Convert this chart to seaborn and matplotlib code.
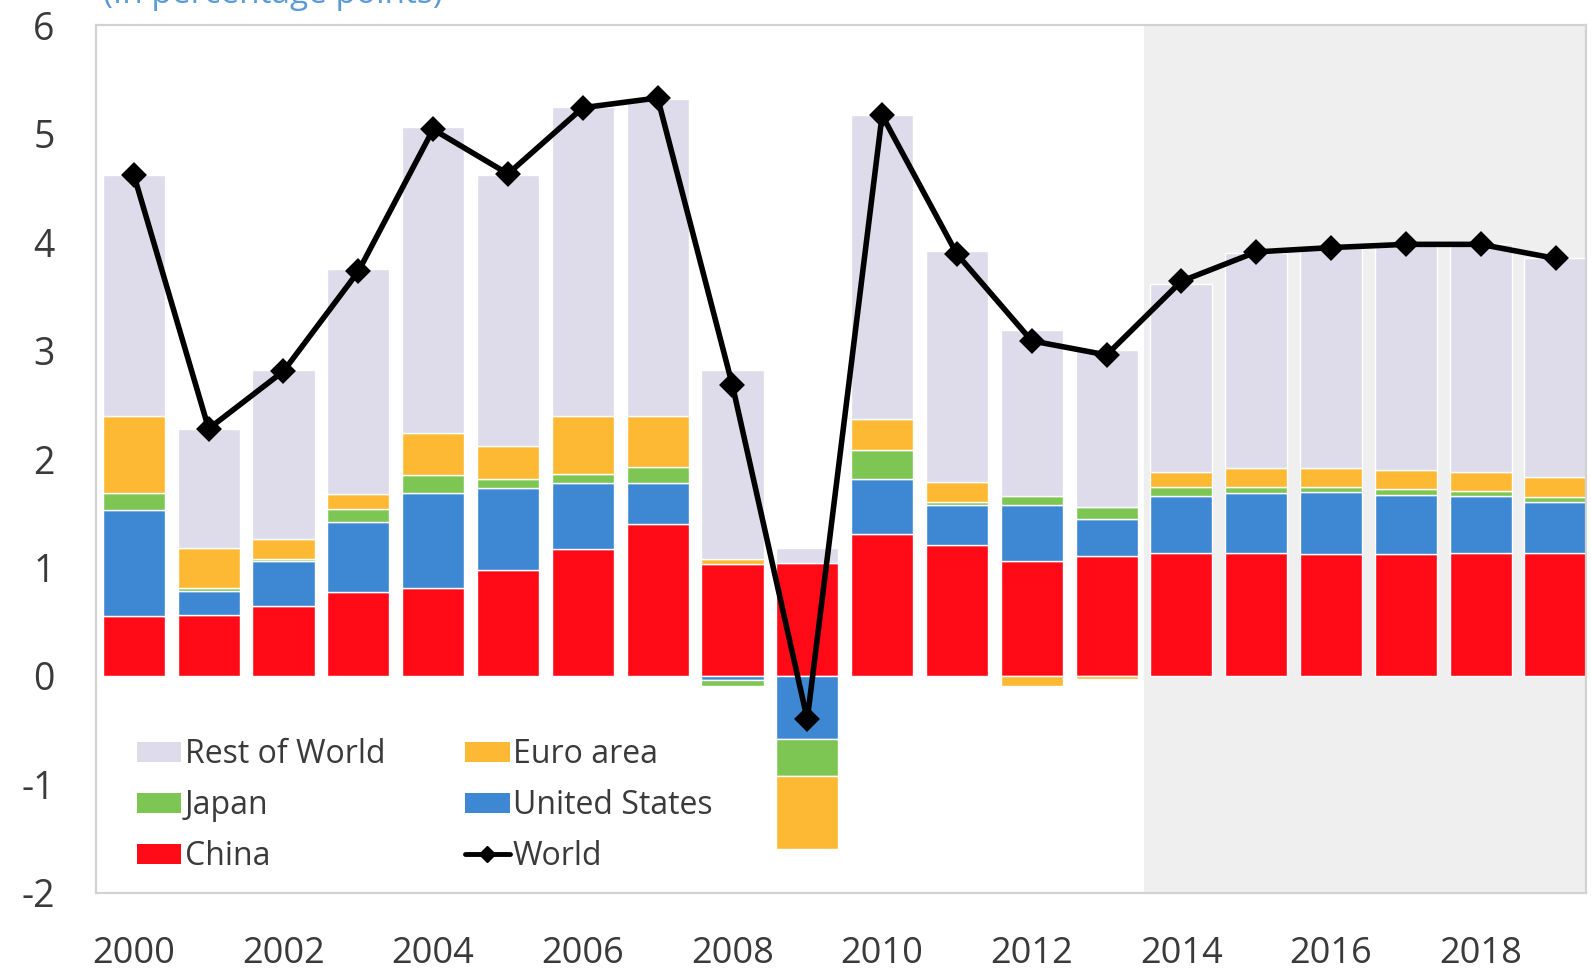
import numpy as np
import pandas as pd
import matplotlib
matplotlib.use("Agg")
import matplotlib.pyplot as plt
import seaborn as sns
from matplotlib.patches import Patch
from matplotlib.lines import Line2D

# ---- data ----
years = list(range(2000, 2020))
china = [0.55, 0.56, 0.645, 0.77, 0.81, 0.98, 1.17, 1.40, 1.03, 1.04,
         1.31, 1.21, 1.06, 1.11, 1.13, 1.13, 1.12, 1.12, 1.13, 1.13]
united_states = [0.98, 0.22, 0.415, 0.645, 0.875, 0.75, 0.61, 0.38, -0.04, -0.58,
                 0.51, 0.37, 0.52, 0.34, 0.53, 0.56, 0.58, 0.55, 0.53, 0.47]
japan = [0.16, 0.03, 0.02, 0.12, 0.17, 0.09, 0.08, 0.15, -0.05, -0.34,
         0.26, 0.02, 0.08, 0.11, 0.08, 0.05, 0.04, 0.05, 0.05, 0.05]
euro_area = [0.71, 0.37, 0.18, 0.145, 0.385, 0.30, 0.54, 0.47, 0.05, -0.68,
             0.29, 0.19, -0.09, -0.03, 0.14, 0.18, 0.18, 0.18, 0.17, 0.18]
rest_of_world = [2.22, 1.10, 1.56, 2.07, 2.82, 2.50, 2.85, 2.92, 1.74, 0.14,
                 2.80, 2.13, 1.53, 1.45, 1.73, 1.98, 2.03, 2.08, 2.10, 2.02]
world = [4.62, 2.28, 2.81, 3.73, 5.04, 4.63, 5.24, 5.33, 2.68, -0.40,
         5.17, 3.89, 3.09, 2.96, 3.64, 3.91, 3.95, 3.98, 3.98, 3.85]
year_labels = [str(y) for y in years]
tick_years = year_labels[::2]
projection_start = "2014"

series = [
    ("China", china, "#FF0A16"),
    ("United States", united_states, "#3E88D3"),
    ("Japan", japan, "#7DC653"),
    ("Euro area", euro_area, "#FDB933"),
    ("Rest of World", rest_of_world, "#DEDBEA"),
]

sns.set_theme(style="white")
plt.rcParams["font.family"] = ["Open Sans", "DejaVu Sans"]

fig = plt.figure(figsize=(15.91, 9.73), dpi=100)
ax = fig.add_axes([0.0606, 0.0824, 0.9364, 0.8916])

# shaded projection area
ps = year_labels.index(projection_start) - 0.5
ax.axvspan(ps, len(years) + 1, color="#EFEFEF", zorder=0, lw=0)

pos_base = np.zeros(len(years))
neg_base = np.zeros(len(years))
for name, vals, col in series:
    v = np.array(vals, dtype=float)
    bottom = np.where(v >= 0, pos_base, neg_base)
    sns.barplot(x=year_labels, y=v, bottom=bottom, color=col, saturation=1,
                width=0.83, edgecolor="white", linewidth=1.0, errorbar=None,
                ax=ax, zorder=2)
    pos_base = pos_base + np.where(v >= 0, v, 0)
    neg_base = neg_base + np.where(v < 0, v, 0)

sns.pointplot(x=year_labels, y=world, color="black", marker="D", markersize=10,
              linewidth=4, errorbar=None, ax=ax, zorder=5)

ax.set_xlim(-0.5, 19.41)
ax.set_ylim(-2, 6)
ax.set_yticks(range(-2, 7))
ax.set_yticklabels([str(t) for t in range(-2, 7)])
ax.set_xticks([year_labels.index(t) for t in tick_years])
ax.set_xticklabels(tick_years)
ax.tick_params(axis="both", length=0, labelsize=27, labelcolor="#3A3A3A")
ax.tick_params(axis="x", pad=31, labelsize=26)
ax.tick_params(axis="y", pad=30)
ax.set_xlabel("")
ax.set_ylabel("")
for s in ax.spines.values():
    s.set_color("#D2D2D2")
    s.set_linewidth(1.6)

handles = [
    Patch(facecolor="#DEDBEA", edgecolor="none", label="Rest of World"),
    Patch(facecolor="#7DC653", edgecolor="none", label="Japan"),
    Patch(facecolor="#FF0A16", edgecolor="none", label="China"),
    Patch(facecolor="#FDB933", edgecolor="none", label="Euro area"),
    Patch(facecolor="#3E88D3", edgecolor="none", label="United States"),
    Line2D([], [], color="black", lw=3.5, marker="D", markersize=8, label="World"),
]
leg = ax.legend(handles=handles, ncol=2, loc="lower left",
                bbox_to_anchor=(0.012, -0.003), frameon=False, fontsize=23,
                handlelength=1.4, handleheight=0.6, handletextpad=0.1,
                labelspacing=0.56, columnspacing=2.5, borderaxespad=0.3)
for t in leg.get_texts():
    t.set_color("#3A3A3A")

fig.text(0.065, 0.997, "(In percentage points)", color="#5B9BD5", fontsize=24,
         va="baseline", ha="left")

fig.savefig("out.png", dpi=100)
